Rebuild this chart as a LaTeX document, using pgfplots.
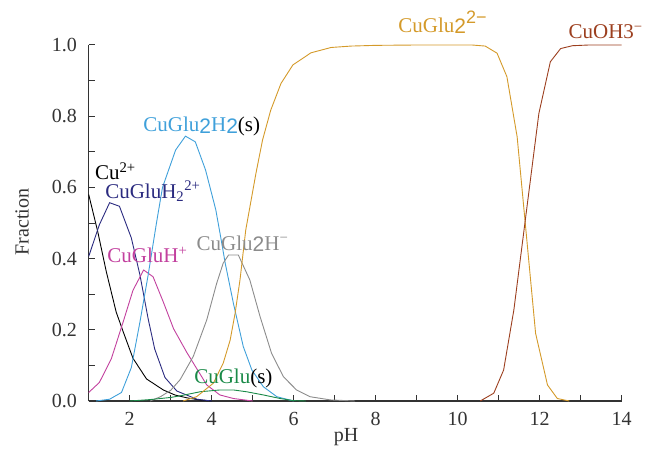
\documentclass[border=0pt]{standalone}
\usepackage{fontspec}
\setmainfont{Liberation Serif}
\newfontfamily\sfd{Liberation Sans}
\usepackage{pgfplots}
\pgfplotsset{compat=1.18}
\definecolor{cnavy}{HTML}{2B2B80}
\definecolor{cmag}{HTML}{C2409E}
\definecolor{cblue}{HTML}{3FA0DA}
\definecolor{cgray}{HTML}{8C8C8C}
\definecolor{cgreen}{HTML}{1A8A48}
\definecolor{cgold}{HTML}{D49A2A}
\definecolor{cbrown}{HTML}{9C3F1F}
\definecolor{caxis}{HTML}{333333}
\newcommand{\two}{\raisebox{-1.5pt}{\sfd 2}}
\begin{document}
\fontsize{20}{24}\selectfont
\begin{tikzpicture}
\begin{axis}[
  at={(0pt,0pt)}, anchor=south west,
  scale only axis, width=533pt, height=356pt,
  xmin=1, xmax=14, ymin=0, ymax=1,
  axis x line*=bottom, axis y line*=left,
  axis line style={-, color=caxis, line width=1.1pt},
  xtick={2,4,...,14}, minor xtick={1,3,...,13},
  ytick={0,0.2,0.4,0.6,0.8,1.0}, minor ytick={0.1,0.3,0.5,0.7,0.9},
  major tick length=6pt, minor tick length=6pt,
  tick style={color=caxis, line width=1pt},
  tick align=inside,
  /pgf/number format/assume math mode=true,
  yticklabel style={/pgf/number format/fixed, /pgf/number format/fixed zerofill, /pgf/number format/precision=1, xshift=-5pt},
  xticklabel style={yshift=-4pt},
  ticklabel style={font=\fontsize{20}{24}\selectfont, color=caxis},
  label style={font=\fontsize{20}{24}\selectfont, color=caxis},
  xlabel={pH}, ylabel={Fraction},
  xlabel style={at={(axis description cs:0.483,-0.101)}, anchor=center},
  ylabel style={at={(axis description cs:-0.125,0.503)}, anchor=center},
  clip=false,
  every axis plot/.append style={line width=0.9pt, mark=none},
]
% Cu2+
\addplot[black] coordinates {
(1,0.58) (1.22,0.476) (1.43,0.363) (1.67,0.25) (1.84,0.195) (2.08,0.12)
(2.41,0.062) (2.82,0.031) (3.1,0.017) (3.39,0.009) (3.7,0.003) (4.0,0.0)};
% CuGluH2 2+
\addplot[cnavy] coordinates {
(1,0.406) (1.26,0.495) (1.51,0.557) (1.75,0.547) (2.04,0.458) (2.25,0.354)
(2.45,0.231) (2.61,0.146) (2.86,0.066) (3.15,0.028) (3.64,0.005) (4.0,0.0)};
% CuGluH+
\addplot[cmag] coordinates {
(1,0.024) (1.26,0.052) (1.55,0.118) (1.84,0.222) (2.08,0.311) (2.34,0.368)
(2.57,0.349) (2.82,0.278) (3.07,0.203) (3.39,0.137) (3.64,0.09) (3.88,0.045)
(4.2,0.017) (4.53,0.007) (5.0,0.0)};
% CuGlu2H2(s)
\addplot[cblue] coordinates {
(1.18,0.0) (1.51,0.005) (1.8,0.024) (2.04,0.094) (2.25,0.222) (2.45,0.354)
(2.66,0.505) (2.8,0.6) (3.12,0.705) (3.36,0.744) (3.6,0.728) (3.85,0.649)
(4.1,0.537) (4.22,0.46) (4.33,0.387) (4.53,0.274) (4.77,0.153) (4.98,0.087)
(5.26,0.04) (5.59,0.012) (6.0,0.0)};
% CuGlu2H-
\addplot[cgray] coordinates {
(2.5,0.0) (2.75,0.012) (3.0,0.03) (3.23,0.06) (3.55,0.125) (3.88,0.228)
(4.12,0.33) (4.28,0.387) (4.41,0.41) (4.65,0.41) (4.93,0.34) (5.18,0.237)
(5.46,0.134) (5.75,0.068) (6.07,0.031) (6.4,0.012) (6.9,0.003) (7.5,0.0)};
% CuGlu(s)
\addplot[cgreen] coordinates {
(2.0,0.0) (2.5,0.004) (3.0,0.01) (3.25,0.015) (3.72,0.026) (4.2,0.031)
(4.53,0.031) (4.85,0.026) (5.26,0.017) (5.67,0.007) (6.0,0.001) (6.3,0.0)};
% CuGlu2 2-
\addplot[cgold] coordinates {
(3.3,0.0) (3.63,0.012) (4.04,0.05) (4.28,0.106) (4.45,0.171) (4.57,0.246)
(4.69,0.34) (4.83,0.48) (5.08,0.64) (5.24,0.733) (5.44,0.817) (5.69,0.892)
(5.98,0.944) (6.42,0.978) (6.91,0.993) (7.4,0.997) (8.0,0.999) (9.0,1.0)
(10.35,1.0) (10.67,0.997) (10.96,0.977) (11.2,0.911) (11.45,0.742)
(11.9,0.19) (12.19,0.045) (12.43,0.007) (12.72,0.0)};
% CuOH3-
\addplot[cbrown] coordinates {
(10.55,0.0) (10.88,0.022) (11.12,0.087) (11.37,0.256) (11.98,0.808)
(12.26,0.953) (12.51,0.99) (12.8,0.998) (13.2,1.0) (14,1.0)};
% labels
\tikzset{lab/.style={anchor=base west, inner sep=0pt, font=\fontsize{21}{24}\selectfont}}
\node[lab, text=black] at (axis cs:1.15,0.621) {Cu\textsuperscript{2+}};
\node[lab, text=cnavy] at (axis cs:1.40,0.570) {CuGluH\textsubscript{2}\textsuperscript{2+}};
\node[lab] at (axis cs:2.33,0.756) {\textcolor{cblue}{CuGlu\two H\two}\textcolor{black}{(s)}};
\node[lab, text=cmag] at (axis cs:1.45,0.388) {CuGluH\textsuperscript{+}};
\node[lab, text=cgray] at (axis cs:3.63,0.424) {CuGlu\two H\textsuperscript{−}};
\node[lab] at (axis cs:3.57,0.050) {\textcolor{cgreen}{CuGlu}\textcolor{black}{(s)}};
\node[lab, text=cgold] at (axis cs:8.55,1.036) {CuGlu\two\raisebox{9pt}{\fontsize{18}{18}\selectfont\sfd 2−}};
\node[lab, text=cbrown] at (axis cs:12.70,1.017) {CuOH3\textsuperscript{−}};
\end{axis}
\pgfresetboundingbox
\path[use as bounding box] (-88.7pt,-52pt) rectangle (561.3pt,401pt);
\end{tikzpicture}
\end{document}
